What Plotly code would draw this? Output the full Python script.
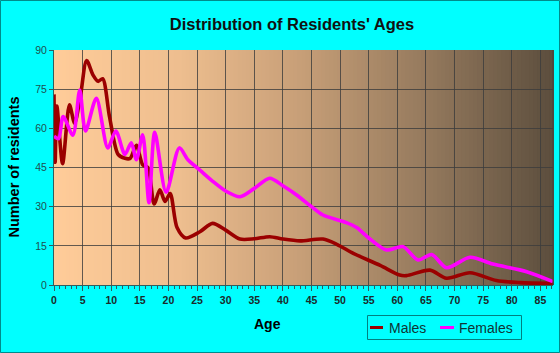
import plotly.graph_objects as go

# ---- data ----
male_ages = [0, 0.2, 0.5, 1.5, 2.7, 3.6, 4.6, 5.7, 6.8, 7.7, 8.5, 9.7, 11.2, 12.4, 13.3, 14.4,
             15.5, 16.4, 17.5, 18.5, 19.4, 20.3, 21.5, 23, 25.5, 27.7, 30, 32.5, 35, 37.7, 40,
             43, 47, 49.5, 52.3, 57, 60.4, 61.6, 65.7, 68.6, 72.7, 77.3, 81.4, 87.2]
males = [73, 47, 68.5, 46.5, 69, 62, 72, 86, 80.5, 78, 79, 64.5, 50, 48.5, 48.5, 53.5,
         46, 45, 31, 36.5, 32, 35, 22, 18, 20.4, 23.6, 21, 17.6, 17.7, 18.5, 17.6,
         16.9, 17.6, 15.5, 12.1, 7.5, 3.8, 3.6, 5.7, 2.6, 4.7, 1.7, 0.9, 0.6]

female_ages = [0, 0.8, 1.6, 3.3, 4.5, 5.5, 7.4, 9.4, 10.8, 12.4, 13.5, 14.4, 15.5, 16.6, 17.6,
               19.6, 21.9, 23.4, 25.5, 27.8, 30, 32.5, 35, 37.7, 40, 42.4, 45, 47, 51.1, 52.9,
               55, 58.1, 61, 63.6, 66, 68.6, 72.7, 76.7, 82.6, 87.2]
females = [57, 56, 64.5, 57.4, 74.7, 59, 71.5, 52.5, 59, 50, 54.5, 48, 57.5, 31.5, 58.5,
           35.5, 52.5, 48, 44, 39.6, 36, 33.8, 37, 40.9, 38, 34.5, 30, 26.8, 23.9, 22,
           18, 13.4, 14.7, 9.6, 11.7, 6.6, 10.6, 8, 5.1, 1.3]

series_names = ["Males", "Females"]
series_colors = ["#9B0000", "#FF00FF"]

x_ticks = list(range(0, 90, 5))
y_ticks = [0, 15, 30, 45, 60, 75, 90]

X_MAX = 87.2
Y_MAX = 90

W, H = 560, 353
L, R, T, B = 54, 7, 50, 68
PW, PH = W - L - R, H - T - B


def px(x):
    return (x - L) / PW


def py(y):
    return (T + PH - y) / PH


fig = go.Figure()
fig.add_trace(go.Scatter(x=male_ages, y=males, name=series_names[0], mode="lines", showlegend=False,
                         line=dict(color=series_colors[0], width=3.6, shape="spline", smoothing=0.8)))
fig.add_trace(go.Scatter(x=female_ages, y=females, name=series_names[1], mode="lines", showlegend=False,
                         line=dict(color=series_colors[1], width=3.6, shape="spline", smoothing=0.8)))

# gradient background of plot area
stops = [(0.0, (255, 204, 153)), (0.25, (238, 190, 143)), (0.5, (198, 158, 119)),
         (0.75, (148, 121, 93)), (1.0, (92, 78, 62))]


def grad(t):
    for (t0, c0), (t1, c1) in zip(stops[:-1], stops[1:]):
        if t <= t1:
            f = (t - t0) / (t1 - t0)
            return "rgb(%d,%d,%d)" % tuple(round(a + (b - a) * f) for a, b in zip(c0, c1))
    return "rgb(%d,%d,%d)" % stops[-1][1]


N = 125
shapes = []
for i in range(N):
    shapes.append(dict(type="rect", xref="paper", yref="paper", x0=i / N, x1=(i + 1) / N + 0.002,
                       y0=0, y1=1, fillcolor=grad((i + 0.5) / N), line=dict(width=0), layer="below"))
# right edge of plot
shapes.append(dict(type="line", xref="paper", yref="paper", x0=1, x1=1, y0=0, y1=1,
                   line=dict(color="#404040", width=1)))
# figure border
shapes.append(dict(type="rect", xref="paper", yref="paper",
                   x0=px(0.5), x1=px(W - 0.5), y0=py(H - 0.5), y1=py(0.5),
                   line=dict(color="#008B8B", width=1), fillcolor="rgba(0,0,0,0)", layer="above"))
# custom legend box
shapes.append(dict(type="rect", xref="paper", yref="paper",
                   x0=px(367.5), x1=px(521.5), y0=py(339.5), y1=py(315.5),
                   line=dict(color="#008080", width=1), fillcolor="rgba(0,0,0,0)", layer="above"))
leg_items = [(370, 383, 387), (440, 454, 457)]
annotations = [
    dict(text="<b>Age</b>", xref="paper", yref="paper", x=px(267), y=py(324),
         showarrow=False, xanchor="center", yanchor="middle", font=dict(size=14, color="#000")),
    dict(text="<b>Number of residents</b>", xref="paper", yref="paper", x=px(13), y=0.5,
         showarrow=False, textangle=-90, xanchor="center", yanchor="middle",
         font=dict(size=14.5, color="#000")),
]
for (x0, x1, tx), name, col in zip(leg_items, series_names, series_colors):
    shapes.append(dict(type="line", xref="paper", yref="paper", x0=px(x0), x1=px(x1),
                       y0=py(327.5), y1=py(327.5), line=dict(color=col, width=3), layer="above"))
    annotations.append(dict(text=name, xref="paper", yref="paper", x=px(tx), y=py(327.5),
                            showarrow=False, xanchor="left", yanchor="middle",
                            font=dict(size=14, color="#0F3535")))

fig.update_layout(
    width=W, height=H,
    margin=dict(l=L, r=R, t=T, b=B),
    paper_bgcolor="#00FFFF",
    plot_bgcolor="rgba(0,0,0,0)",
    font=dict(family="Liberation Sans, Arial, sans-serif", color="#000000"),
    title=dict(text="Distribution of Residents' Ages", x=292 / W, xanchor="center",
               y=1 - 24 / H, yanchor="middle", yref="container",
               font=dict(size=16.5, weight="bold", color="#111111")),
    showlegend=False,
    shapes=shapes,
    annotations=annotations,
)

fig.update_xaxes(range=[0, X_MAX], tickvals=x_ticks, ticktext=[str(v) for v in x_ticks],
                 showgrid=True, gridcolor="rgba(60,60,60,0.8)", gridwidth=1,
                 ticks="outside", ticklen=5, tickcolor="#2F5F5F",
                 minor=dict(dtick=1, tick0=0, ticks="outside", ticklen=3, tickcolor="#2F5F5F", showgrid=False),
                 showline=True, linecolor="#2F5F5F", linewidth=1, zeroline=False,
                 tickfont=dict(size=10.5, weight="bold", color="#1a2a2a"), fixedrange=True)
fig.update_yaxes(range=[0, Y_MAX], tickvals=y_ticks, ticktext=[str(v) for v in y_ticks],
                 showgrid=True, gridcolor="rgba(60,60,60,0.8)", gridwidth=1,
                 ticks="outside", ticklen=4, tickcolor="#2F5F5F",
                 showline=True, linecolor="#2F5F5F", linewidth=1, zeroline=False,
                 tickfont=dict(size=10.5, color="#1F4F4F"), fixedrange=True)

fig.write_html("out.html")
